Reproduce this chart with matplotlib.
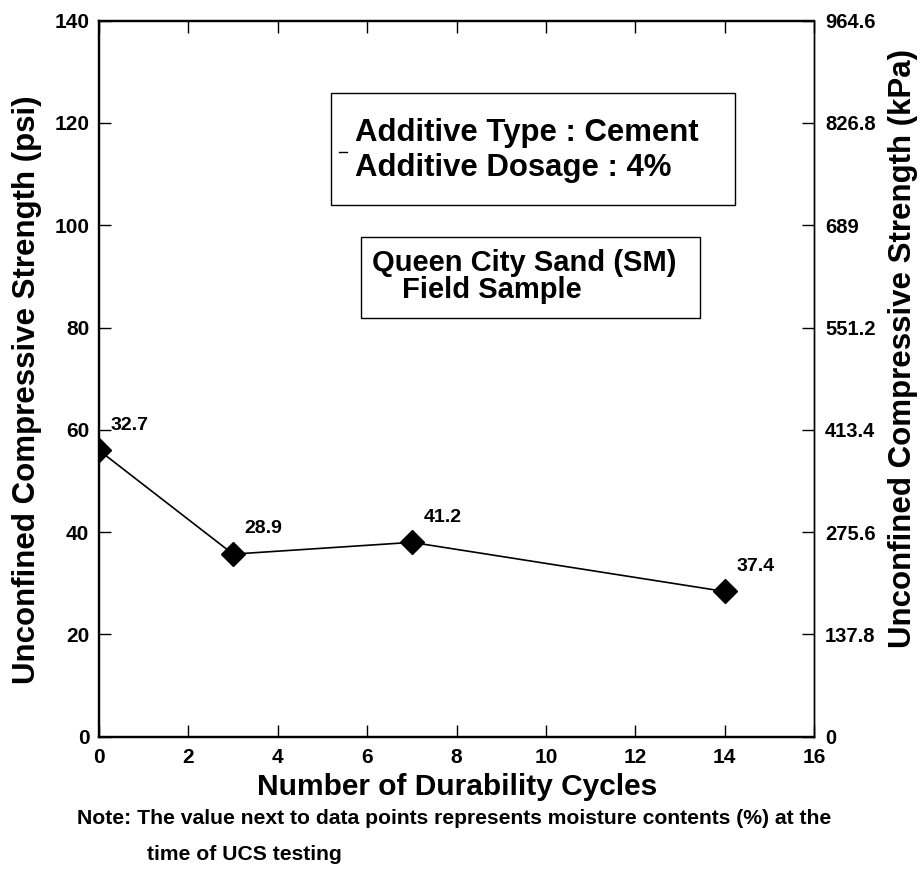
"""UCS vs durability cycles, Queen City Sand with 4% cement."""

import matplotlib
matplotlib.use("Agg")
import matplotlib.pyplot as plt
from matplotlib.lines import Line2D
from matplotlib.patches import Rectangle
import numpy as np

CYCLES = [0, 3, 7, 14]
UCS_PSI = [56.0, 35.7, 38.0, 28.4]
MOISTURE = ["32.7", "28.9", "41.2", "37.4"]

PSI_TICKS = [0, 20, 40, 60, 80, 100, 120, 140]
KPA_LABELS = ["0", "137.8", "275.6", "413.4", "551.2", "689", "826.8", "964.6"]
X_TICKS = [0, 2, 4, 6, 8, 10, 12, 14, 16]
PSI_TO_KPA = 6.89

FONT = ["Liberation Sans", "DejaVu Sans"]

W, H = 922, 873
fig = plt.figure(figsize=(W / 100, H / 100), dpi=100)


def fx(px):
    return px / W


def fy(py):
    return 1 - py / H


ax = fig.add_axes([fx(99), fy(736.7), fx(814) - fx(99), fy(20.7) - fy(736.7)])

ax.plot(CYCLES, UCS_PSI, color="black", lw=1.2, marker="D", ms=12.5,
        mfc="black", mec="black", zorder=3)
for x, y, m in zip(CYCLES, UCS_PSI, MOISTURE):
    ax.annotate(m, (x, y), xytext=(8.5, 12), textcoords="offset points",
                ha="left", va="bottom", fontsize=14, fontweight="bold",
                family=FONT)

ax.set_xlim(0, 16)
ax.set_ylim(0, 140)
ax.set_xticks(X_TICKS)
ax.set_yticks(PSI_TICKS)
ax.tick_params(axis="both", direction="in", length=8.5, width=1.0,
               labelsize=15, top=True)
ax.tick_params(axis="x", pad=8)
ax.tick_params(axis="y", pad=7)
for lbl in ax.get_xticklabels() + ax.get_yticklabels():
    lbl.set_fontweight("bold")
    lbl.set_family(FONT)

ax2 = ax.twinx()
ax2.set_ylim(0, 140 * PSI_TO_KPA)
ax2.set_yticks(np.array(PSI_TICKS) * PSI_TO_KPA)
ax2.set_yticklabels(KPA_LABELS)
ax2.tick_params(axis="y", direction="in", length=8.5, width=1.0,
                labelsize=14.5, pad=8)
for lbl in ax2.get_yticklabels():
    lbl.set_fontweight("bold")
    lbl.set_family(FONT)

for a in (ax, ax2):
    a.spines["left"].set_linewidth(1.6)
    a.spines["bottom"].set_linewidth(1.6)
    a.spines["top"].set_linewidth(1.6)
    a.spines["right"].set_linewidth(1.0)

# axis titles
fig.text(fx(27), fy(390), "Unconfined Compressive Strength (psi)",
         rotation=90, ha="center", va="center", fontsize=22.5,
         fontweight="bold", family=FONT)
fig.text(fx(903), fy(348), "Unconfined Compressive Strength (kPa)",
         rotation=90, ha="center", va="center", fontsize=22.5,
         fontweight="bold", family=FONT)
fig.text(fx(457), fy(795), "Number of Durability Cycles",
         ha="center", va="baseline", fontsize=21.5, fontweight="bold",
         family=FONT)

# note under the plot
fig.text(fx(77), fy(824), "Note: The value next to data points represents "
         "moisture contents (%) at the", ha="left", va="baseline",
         fontsize=15.2, fontweight="bold", family=FONT)
fig.text(fx(147), fy(860), "time of UCS testing", ha="left",
         va="baseline", fontsize=15.2, fontweight="bold", family=FONT)

# info boxes
fig.add_artist(Rectangle((fx(330.7), fy(205)), fx(735) - fx(330.7),
                         fy(92.7) - fy(205), transform=fig.transFigure,
                         fill=False, ec="black", lw=1.0))
fig.add_artist(Rectangle((fx(361), fy(318)), fx(700) - fx(361),
                         fy(236.7) - fy(318), transform=fig.transFigure,
                         fill=False, ec="black", lw=1.0))
fig.add_artist(Line2D([fx(339), fx(347)], [fy(152), fy(152)],
                      transform=fig.transFigure, color="black", lw=1.0))

box_font = dict(fontweight="bold", family=FONT, va="center", ha="left")
fig.text(fx(355), fy(133), "Additive Type : Cement", fontsize=22.4, **box_font)
fig.text(fx(355), fy(168), "Additive Dosage : 4%", fontsize=22.4, **box_font)
fig.text(fx(372), fy(263), "Queen City Sand (SM)", fontsize=21, **box_font)
fig.text(fx(402), fy(290), "Field Sample", fontsize=21, **box_font)

fig.savefig("out.png", dpi=100)
